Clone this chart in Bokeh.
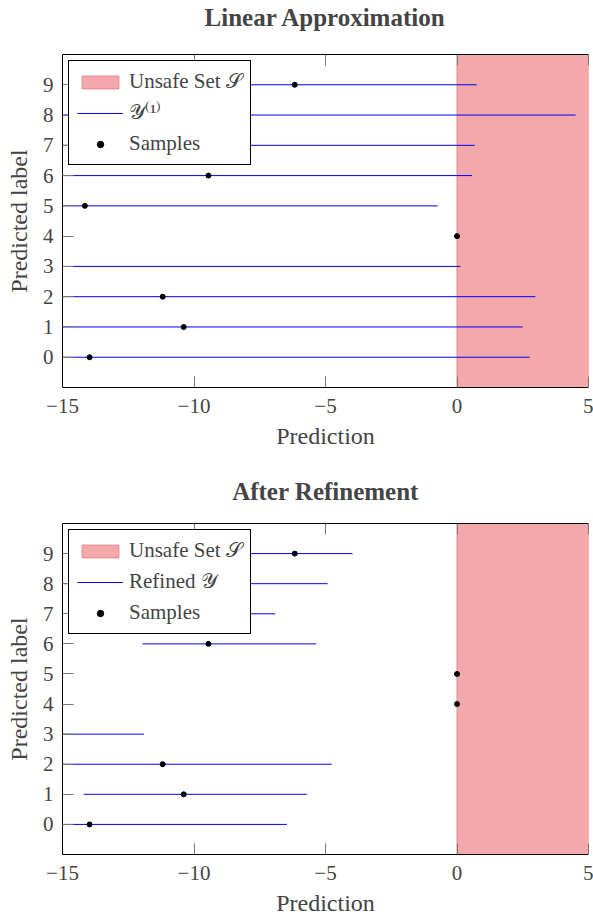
from bokeh.plotting import figure
from bokeh.models import (FixedTicker, LinearAxis, Legend, LegendItem, Range1d, ColumnDataSource)
from bokeh.layouts import column
from bokeh.embed import file_html
from bokeh.resources import INLINE

# ---------------- data ----------------
x_ticks = [-15, -10, -5, 0, 5]
x_tick_labels = ["\u221215", "\u221210", "\u22125", "0", "5"]
y_ticks = [0, 1, 2, 3, 4, 5, 6, 7, 8, 9]
x_min, x_max = -15, 5
y_min, y_max = -1, 10

unsafe_lo = 0.0
unsafe_hi = 5.0

# Linear approximation: interval bounds per predicted label
lin_labels = [9, 8, 7, 6, 5, 3, 2, 1, 0]
lin_lo = [-12.0, -15.0, -15.0, -15.0, -15.0, -15.0, -15.0, -15.0, -15.0]
lin_hi = [0.75, 4.51, 0.68, 0.57, -0.73, 0.13, 2.98, 2.50, 2.76]

# After refinement
ref_labels = [9, 8, 7, 6, 3, 2, 1, 0]
ref_lo = [-9.0, -15.0, -10.0, -11.96, -15.0, -15.0, -14.19, -15.0]
ref_hi = [-3.97, -4.92, -6.91, -5.35, -11.9, -4.76, -5.71, -6.47]

# Samples
lin_sample_labels = [9, 6, 5, 4, 2, 1, 0]
lin_sample_x = [-6.17, -9.45, -14.15, 0.0, -11.19, -10.39, -13.97]
ref_sample_labels = [9, 6, 5, 4, 2, 1, 0]
ref_sample_x = [-6.17, -9.45, 0.0, 0.0, -11.19, -10.39, -13.97]

FONT = "Liberation Serif"
TICK_FS = "21px"
LABEL_FS = "24px"
TITLE_FS = "25px"
LEG_FS = "21px"
# near-identical blues, cycled so every stroke gets its colour set explicitly
BLUES = ["#0000ff", "#0000fe", "#0101ff"]


def make_fig(title, labels, lo, hi, s_lab, s_x, ylegend, height, min_bottom, title_standoff):
    p = figure(width=593, height=height, output_backend="svg", toolbar_location=None,
               x_range=Range1d(x_min, x_max), y_range=Range1d(y_min, y_max),
               x_axis_location=None, y_axis_location=None,
               min_border_left=62, min_border_right=5, min_border_top=54,
               min_border_bottom=min_bottom)
    p.grid.visible = False
    p.outline_line_color = None

    def style(ax):
        ax.axis_line_color = "black"
        ax.major_tick_line_color = "#777777"
        ax.major_tick_in = 11
        ax.major_tick_out = 0
        ax.minor_tick_line_color = None
        ax.major_label_text_font = FONT
        ax.major_label_text_font_size = TICK_FS
        ax.axis_label_text_font = FONT
        ax.axis_label_text_font_size = LABEL_FS
        ax.axis_label_text_font_style = "normal"

    xb = LinearAxis(ticker=FixedTicker(ticks=x_ticks), axis_label="Prediction",
                    major_label_overrides=dict(zip(x_ticks, x_tick_labels)))
    style(xb)
    xb.major_label_standoff = 11
    xb.axis_label_standoff = 7
    p.add_layout(xb, "below")

    # top frame edge with mirrored ticks; carries the chart title
    xt = LinearAxis(ticker=FixedTicker(ticks=x_ticks), axis_label=title)
    style(xt)
    xt.major_label_text_font_size = "0px"
    xt.major_label_standoff = 0
    xt.axis_label_text_font_size = TITLE_FS
    xt.axis_label_text_font_style = "bold"
    xt.axis_label_standoff = title_standoff
    p.add_layout(xt, "above")

    yl = LinearAxis(ticker=FixedTicker(ticks=y_ticks), axis_label="Predicted label")
    style(yl)
    yl.major_label_standoff = 9
    yl.axis_label_standoff = 8
    p.add_layout(yl, "left")

    unsafe = p.quad(left=[unsafe_lo], right=[unsafe_hi], bottom=[y_min], top=[y_max],
                    fill_color="#f3a8ac", fill_alpha=1.0, line_color="#e8878d", line_width=1)
    src = ColumnDataSource(dict(xs=[[a, b] for a, b in zip(lo, hi)],
                                ys=[[l, l] for l in labels],
                                color=[BLUES[i % 3] for i in range(len(labels))]))
    seg = p.multi_line(xs="xs", ys="ys", line_color="color", line_width=1, source=src)
    pts = p.scatter(x=s_x, y=s_lab, size=5, color="black", marker="circle")

    leg = Legend(items=[LegendItem(label="Unsafe Set \U0001D4AE", renderers=[unsafe]),
                        LegendItem(label=ylegend, renderers=[seg], index=0),
                        LegendItem(label="Samples", renderers=[pts])],
                 location="top_left", margin=6, padding=8, spacing=6,
                 glyph_width=46, glyph_height=16, label_standoff=6,
                 label_text_font=FONT, label_text_font_size=LEG_FS,
                 border_line_color="black", border_line_width=1, border_line_alpha=1,
                 background_fill_color="white", background_fill_alpha=1)
    p.add_layout(leg, "center")
    return p


p1 = make_fig("Linear Approximation", lin_labels, lin_lo, lin_hi,
              lin_sample_labels, lin_sample_x, "\U0001D4B4\u207D\u00B9\u207E", 469, 82, 24)
p2 = make_fig("After Refinement", ref_labels, ref_lo, ref_hi,
              ref_sample_labels, ref_sample_x, "Refined \U0001D4B4", 449, 61, 19)

layout = column(p1, p2, spacing=0)
open("out.html", "w").write(file_html(layout, INLINE))
